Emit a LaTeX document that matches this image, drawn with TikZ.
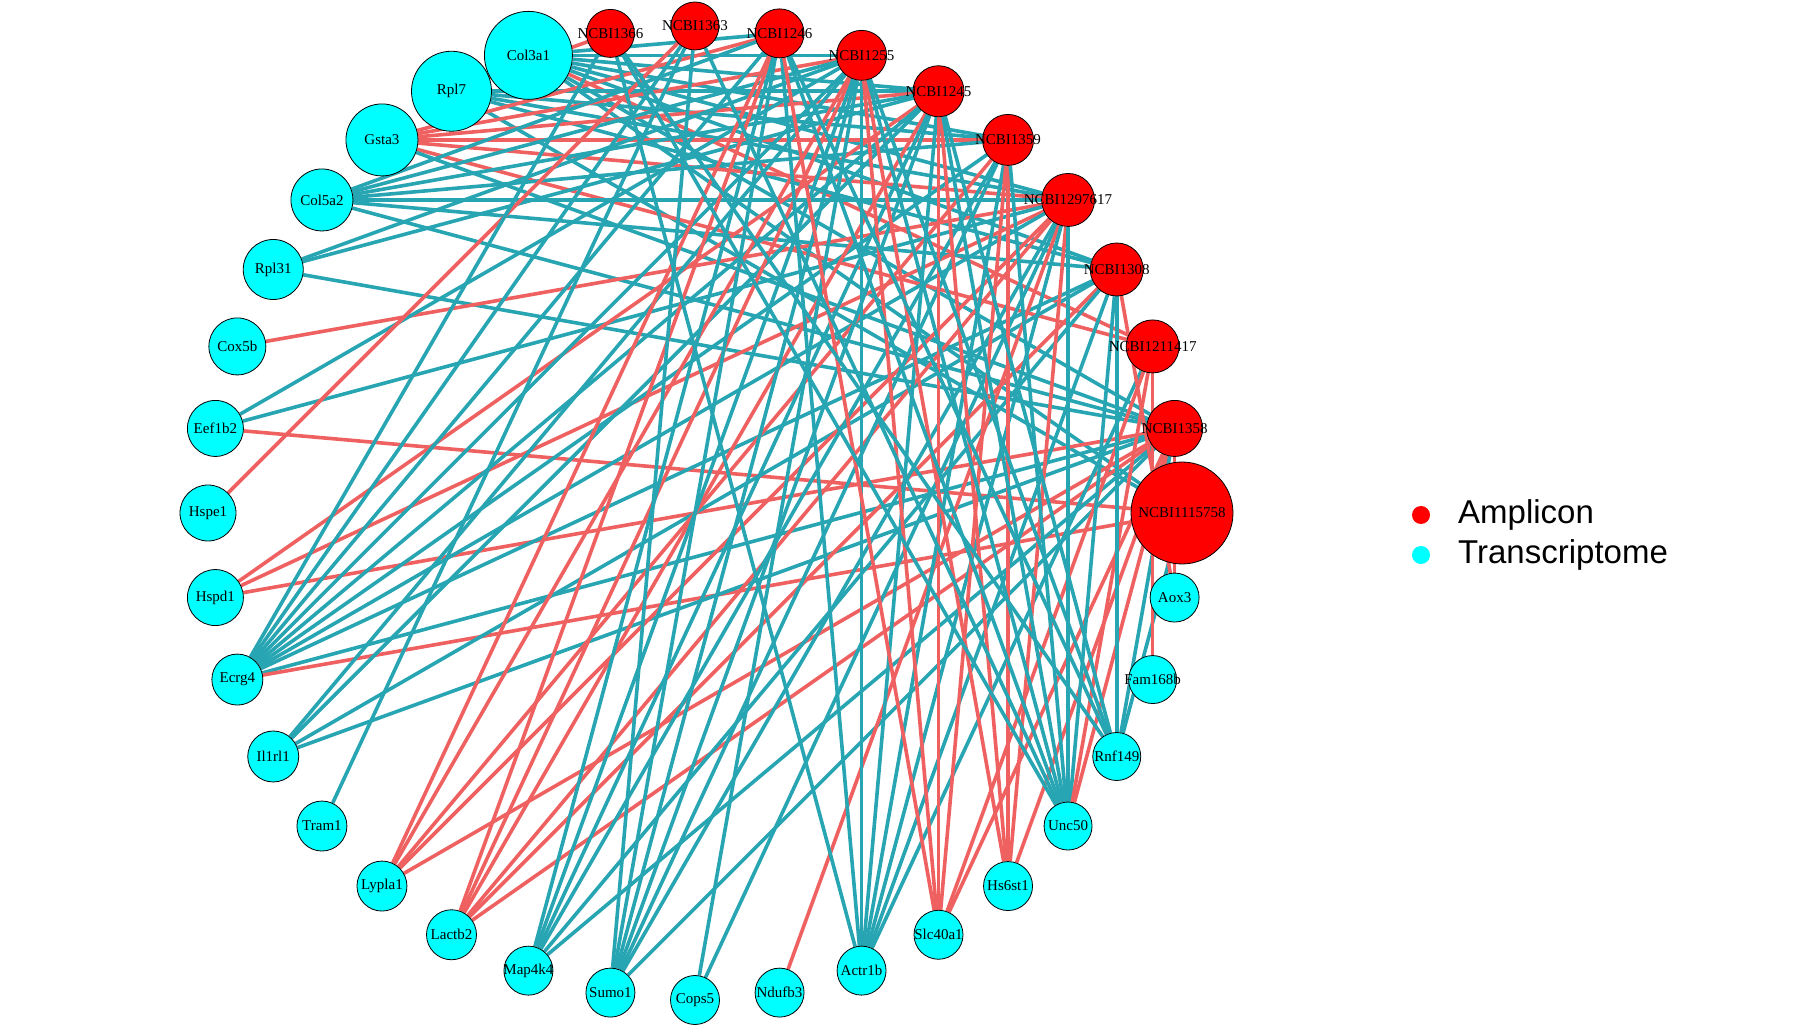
\documentclass[tikz,border=0pt]{standalone}
\usepackage{fontspec}
\setmainfont{Liberation Serif}
\newfontfamily\legfont{Liberation Sans}
\definecolor{tealE}{RGB}{40,165,178}
\definecolor{redE}{RGB}{239,97,97}
\definecolor{nodeCyan}{RGB}{0,255,255}
\definecolor{nodeRed}{RGB}{255,0,0}
\pgfdeclarelayer{edgelayer}
\pgfsetlayers{edgelayer,main}
\begin{document}
\begin{tikzpicture}[x=1pt,y=1pt,
  cyanN/.style={circle,draw=black,line width=0.8pt,fill=nodeCyan,inner sep=0pt},
  redN/.style={circle,draw=black,line width=0.8pt,fill=nodeRed,inner sep=0pt},
  lbl/.style={font=\fontsize{15}{18}\selectfont,inner sep=0pt,text=black},
  te/.style={draw=tealE,line width=3.6pt},
  re/.style={draw=redE,line width=3.6pt},
  legdot/.style={circle,inner sep=0pt,minimum size=18pt},
  legtxt/.style={font=\legfont\fontsize{33}{38}\selectfont,anchor=west,inner sep=0pt}]
\path[use as bounding box] (0,0) rectangle (1800,1026);
\begin{scope}[shift={(695,513)}]
% amplicon nodes
\node[redN,minimum size=48pt] (n1366) at (100:487) {};
\node[redN,minimum size=48pt] (n1363) at (90:487) {};
\node[redN,minimum size=49pt] (n1246) at (80:487) {};
\node[redN,minimum size=50pt] (n1255) at (70:487) {};
\node[redN,minimum size=51pt] (n1245) at (60:487) {};
\node[redN,minimum size=51pt] (n1359) at (50:487) {};
\node[redN,minimum size=53pt] (n1297617) at (40:487) {};
\node[redN,minimum size=53pt] (n1308) at (30:487) {};
\node[redN,minimum size=53pt] (n1211417) at (20:487) {};
\node[redN,minimum size=56pt] (n1358) at (10:487) {};
\node[redN,minimum size=102pt] (n1115758) at (0:487) {};
% transcriptome nodes
\node[cyanN,minimum size=49pt] (Aox3) at (-10:487) {};
\node[cyanN,minimum size=48pt] (Fam168b) at (-20:487) {};
\node[cyanN,minimum size=48pt] (Rnf149) at (-30:487) {};
\node[cyanN,minimum size=48pt] (Unc50) at (-40:487) {};
\node[cyanN,minimum size=49pt] (Hs6st1) at (-50:487) {};
\node[cyanN,minimum size=49pt] (Slc40a1) at (-60:487) {};
\node[cyanN,minimum size=49pt] (Actr1b) at (-70:487) {};
\node[cyanN,minimum size=49pt] (Ndufb3) at (-80:487) {};
\node[cyanN,minimum size=49pt] (Cops5) at (-90:487) {};
\node[cyanN,minimum size=49pt] (Sumo1) at (-100:487) {};
\node[cyanN,minimum size=49pt] (Map4k4) at (-110:487) {};
\node[cyanN,minimum size=50pt] (Lactb2) at (-120:487) {};
\node[cyanN,minimum size=50pt] (Lypla1) at (-130:487) {};
\node[cyanN,minimum size=50pt] (Tram1) at (-140:487) {};
\node[cyanN,minimum size=51pt] (Il1rl1) at (-150:487) {};
\node[cyanN,minimum size=51pt] (Ecrg4) at (-160:487) {};
\node[cyanN,minimum size=56pt] (Hspd1) at (-170:487) {};
\node[cyanN,minimum size=56pt] (Hspe1) at (180:487) {};
\node[cyanN,minimum size=56pt] (Eef1b2) at (170:487) {};
\node[cyanN,minimum size=57pt] (Cox5b) at (160:487) {};
\node[cyanN,minimum size=60pt] (Rpl31) at (150:487) {};
\node[cyanN,minimum size=62pt] (Col5a2) at (140:487) {};
\node[cyanN,minimum size=72pt] (Gsta3) at (130:487) {};
\node[cyanN,minimum size=80pt] (Rpl7) at (120:487) {};
\node[cyanN,minimum size=88pt] (Col3a1) at (110:487) {};
\end{scope}
% labels
\foreach \n/\t in {n1366/NCBI1366,n1363/NCBI1363,n1246/NCBI1246,n1255/NCBI1255,n1245/NCBI1245,n1359/NCBI1359,n1297617/NCBI1297617,n1308/NCBI1308,n1211417/NCBI1211417,n1358/NCBI1358,n1115758/NCBI1115758,Aox3/Aox3,Fam168b/Fam168b,Rnf149/Rnf149,Unc50/Unc50,Hs6st1/Hs6st1,Slc40a1/Slc40a1,Actr1b/Actr1b,Ndufb3/Ndufb3,Cops5/Cops5,Sumo1/Sumo1,Map4k4/Map4k4,Lactb2/Lactb2,Lypla1/Lypla1,Tram1/Tram1,Il1rl1/Il1rl1,Ecrg4/Ecrg4,Hspd1/Hspd1,Hspe1/Hspe1,Eef1b2/Eef1b2,Cox5b/Cox5b,Rpl31/Rpl31,Col5a2/Col5a2,Gsta3/Gsta3,Rpl7/Rpl7,Col3a1/Col3a1}
  {\node[lbl] at (\n) {\t};}
% edges
\begin{pgfonlayer}{edgelayer}
% Col3a1
\foreach \r in {n1246,n1255,n1245,n1359,n1297617,n1308,n1358,n1115758} {\draw[te] (Col3a1) -- (\r);}
\draw[re] (Col3a1) -- (n1211417);
% Rpl7
\draw[re] (Rpl7) -- (n1366);
\foreach \r in {n1245,n1359,n1297617,n1308,n1115758} {\draw[te] (Rpl7) -- (\r);}
% Gsta3
\foreach \r in {n1246,n1255,n1245,n1359,n1297617,n1211417} {\draw[re] (Gsta3) -- (\r);}
\draw[te] (Gsta3) -- (n1358);
% Col5a2
\foreach \r in {n1246,n1255,n1245,n1359,n1297617,n1308,n1358} {\draw[te] (Col5a2) -- (\r);}
% Rpl31
\foreach \r in {n1255,n1245,n1358} {\draw[te] (Rpl31) -- (\r);}
% Cox5b
\draw[re] (Cox5b) -- (n1297617);
% Eef1b2
\draw[te] (Eef1b2) -- (n1255);
\draw[te] (Eef1b2) -- (n1297617);
\draw[re] (Eef1b2) -- (n1115758);
% Hspe1
\draw[re] (Hspe1) -- (n1363);
% Hspd1
\foreach \r in {n1245,n1297617,n1358} {\draw[re] (Hspd1) -- (\r);}
% Ecrg4
\foreach \r in {n1366,n1363,n1246,n1255,n1245,n1359,n1297617,n1308,n1358} {\draw[te] (Ecrg4) -- (\r);}
\draw[re] (Ecrg4) -- (n1115758);
% Il1rl1
\foreach \r in {n1255,n1245,n1308,n1358} {\draw[te] (Il1rl1) -- (\r);}
% Tram1
\draw[te] (Tram1) -- (n1363);
% Lypla1
\foreach \r in {n1246,n1255,n1359,n1297617,n1358} {\draw[re] (Lypla1) -- (\r);}
% Lactb2
\foreach \r in {n1246,n1255,n1245,n1297617,n1308,n1358} {\draw[re] (Lactb2) -- (\r);}
% Map4k4
\foreach \r in {n1246,n1255,n1245,n1359,n1308,n1358} {\draw[te] (Map4k4) -- (\r);}
% Sumo1
\foreach \r in {n1363,n1246,n1255,n1245,n1359,n1297617,n1358} {\draw[te] (Sumo1) -- (\r);}
% Cops5
\draw[te] (Cops5) -- (n1255);
\draw[te] (Cops5) -- (n1297617);
% Ndufb3
\draw[re] (Ndufb3) -- (n1297617);
% Actr1b
\foreach \r in {n1366,n1246,n1255,n1245,n1359,n1297617,n1308,n1211417} {\draw[te] (Actr1b) -- (\r);}
% Slc40a1
\foreach \r in {n1246,n1255,n1245,n1359,n1211417,n1358} {\draw[re] (Slc40a1) -- (\r);}
% Hs6st1
\foreach \r in {n1255,n1245,n1359,n1297617,n1358} {\draw[re] (Hs6st1) -- (\r);}
% Unc50
\foreach \r in {n1366,n1363,n1246,n1255,n1245,n1359,n1297617,n1308} {\draw[te] (Unc50) -- (\r);}
\draw[re] (Unc50) -- (n1211417);
\draw[re] (Unc50) -- (n1358);
% Rnf149
\foreach \r in {n1366,n1246,n1255,n1245,n1308,n1358,n1115758} {\draw[te] (Rnf149) -- (\r);}
% Fam168b
\draw[re] (Fam168b.center) -- (n1211417.center);
% Aox3
\draw[re] (Aox3) -- (n1308);
\draw[re] (Aox3.center) -- (n1358.center);
\end{pgfonlayer}
% legend
\node[legdot,fill=nodeRed] (legA) at (1421,511) {};
\node[legdot,fill=nodeCyan] (legT) at (1421,471) {};
\node[legtxt] (legAt) at (1458,511) {Amplicon};
\node[legtxt] (legTt) at (1458,471) {Transcriptome};
\end{tikzpicture}
\end{document}
